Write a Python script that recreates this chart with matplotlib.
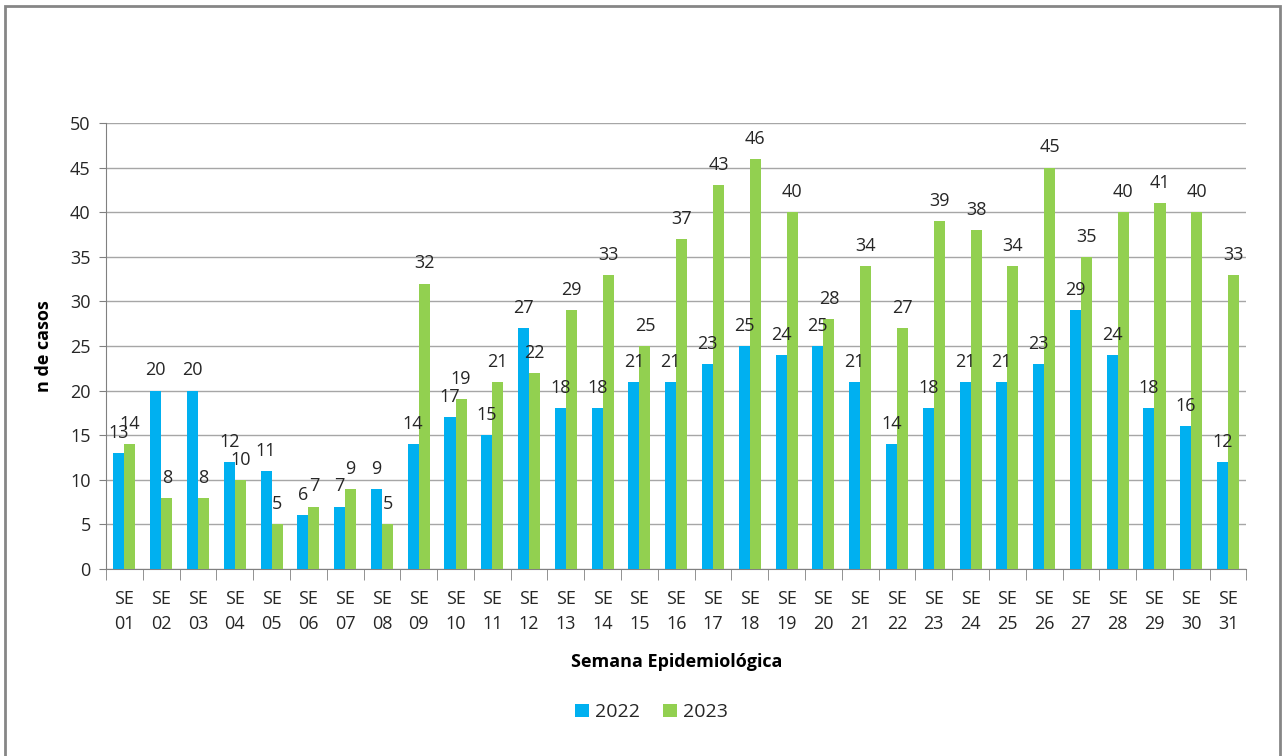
import matplotlib
matplotlib.use("Agg")
import matplotlib.pyplot as plt
import numpy as np
from matplotlib.patches import Rectangle

BLUE = "#00B0F0"
GREEN = "#92D050"
GRID = "#A6A6A6"
TEXT = "#262626"

weeks = [f"SE\n{i:02d}" for i in range(1, 32)]
cases_2022 = [13, 20, 20, 12, 11, 6, 7, 9, 14, 17, 15, 27, 18, 18, 21, 21,
              23, 25, 24, 25, 21, 14, 18, 21, 21, 23, 29, 24, 18, 16, 12]
cases_2023 = [14, 8, 8, 10, 5, 7, 9, 5, 32, 19, 21, 22, 29, 33, 25, 37,
              43, 46, 40, 28, 34, 27, 39, 38, 34, 45, 35, 40, 41, 40, 33]
years = ["2022", "2023"]

plt.rcParams["font.family"] = ["Open Sans", "DejaVu Sans"]

fig = plt.figure(figsize=(12.85, 7.56), dpi=100)
ax = fig.add_axes([0.0825, 0.2474, 0.8875, 0.5899])

x = np.arange(len(weeks))
w = 0.3
b1 = ax.bar(x - w / 2, cases_2022, w, color=BLUE, label=years[0], zorder=3)
b2 = ax.bar(x + w / 2, cases_2023, w, color=GREEN, label=years[1], zorder=3)
for bars in (b1, b2):
    ax.bar_label(bars, padding=8, fontsize=13, color=TEXT)

ax.set_xlim(-0.5, len(weeks) - 0.5)
ax.set_ylim(0, 50)
ax.set_yticks(range(0, 51, 5))
ax.yaxis.grid(True, color=GRID, linewidth=1, zorder=0)

ax.set_xticks(x)
ax.set_xticklabels(weeks, fontsize=13, color=TEXT, linespacing=1.55)
ax.set_xticks(np.arange(-0.5, len(weeks)), minor=True)
ax.tick_params(axis="x", which="major", length=0, pad=15)
ax.tick_params(axis="x", which="minor", length=8, color="#808080")
ax.tick_params(axis="y", length=5, color="#808080", labelsize=13,
               labelcolor=TEXT, pad=6)

for side in ("top", "right"):
    ax.spines[side].set_visible(False)
for side in ("left", "bottom"):
    ax.spines[side].set_color("#808080")

ax.set_ylabel("n de casos", fontsize=13, fontweight="bold", color="black",
              labelpad=12)
ax.set_xlabel("Semana Epidemiológica", fontsize=13, fontweight="bold",
              color="black", labelpad=14)

leg = fig.legend(loc="center", bbox_to_anchor=(0.507, 0.058), ncol=2,
                 frameon=False, fontsize=14, handlelength=0.7,
                 handleheight=0.7, handletextpad=0.3, columnspacing=1.2)
for t in leg.get_texts():
    t.set_color(TEXT)

# outer chart frame, open at the bottom edge
fig.patches.append(Rectangle((5 / 1285, -0.05), 1275 / 1285, 1.05 - 6 / 756,
                             transform=fig.transFigure, fill=False,
                             edgecolor="#868686", linewidth=2))

fig.savefig("out.png", dpi=100)
